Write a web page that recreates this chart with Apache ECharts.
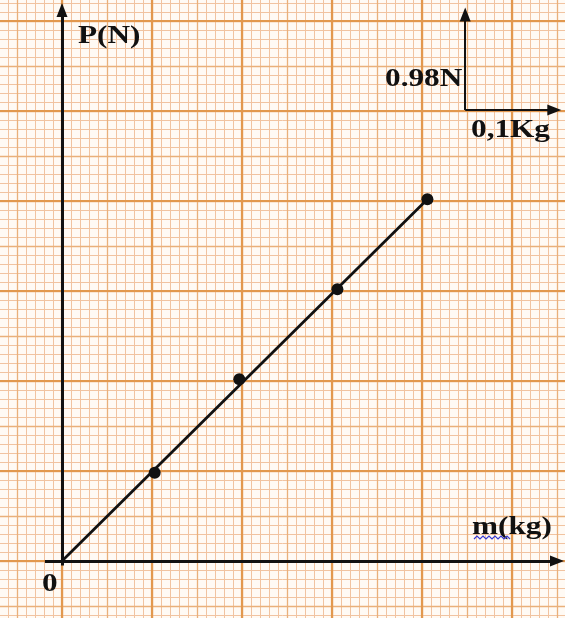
<!DOCTYPE html>
<html>
<head>
<meta charset="utf-8">
<script src="https://cdn.jsdelivr.net/npm/echarts@6/dist/echarts.min.js"></script>
<style>
html,body{margin:0;padding:0;background:#fffaf4;}
#c{width:565px;height:618px;}
</style>
</head>
<body>
<div id="c"></div>
<script>
// Measured points (mass in kg, weight in N)
var massKg = [0.103, 0.197, 0.306, 0.406];
var weightN = [0.96, 1.98, 2.96, 3.94];
// Fitted line through origin and last point
var fitMass = [0, 0.406];
var fitWeight = [0, 3.94];
// Axis ranges / graph paper steps
var xRange = [-0.1, 0.6];
var yRange = [-0.98, 6.86];
var xSteps = [0.01, 0.05, 0.1];
var ySteps = [0.098, 0.49, 0.98];
// Labels
var yTitle = 'P(N)';
var xTitle = 'm(kg)';
var originLabel = '0';
var scaleYLabel = '0.98N';
var scaleXLabel = '0,1Kg';

var paperColors = ['#f1c3a0', '#e9b07a', '#e2984e'];
var paperWidths = [1, 1.3, 2.2];

function toPairs(a, b) { return a.map(function (v, i) { return [v, b[i]]; }); }

var xAxes = [], yAxes = [];
for (var i = 0; i < 3; i++) {
  xAxes.push({
    type: 'value', min: xRange[0], max: xRange[1], interval: xSteps[i], z: i,
    axisLine: {show: false}, axisTick: {show: false}, axisLabel: {show: false},
    splitLine: {show: true, lineStyle: {color: paperColors[i], width: paperWidths[i]}}
  });
  yAxes.push({
    type: 'value', min: yRange[0], max: yRange[1], interval: ySteps[i], z: i,
    axisLine: {show: false}, axisTick: {show: false}, axisLabel: {show: false},
    splitLine: {show: true, lineStyle: {color: paperColors[i], width: paperWidths[i]}}
  });
}

var chart = echarts.init(document.getElementById('c'), null, {renderer: 'canvas'});
var font = 'bold 25px "Liberation Serif", "Times New Roman", serif';
function txt(t, x, y, align) {
  return {type: 'text', x: x, y: y, scaleX: 1.25, z: 100,
    style: {text: t, font: font, fill: '#111', textAlign: align || 'left', textVerticalAlign: 'middle'}};
}
var arrowLine = {color: '#111', width: 2, type: 'solid'};
var axisLine = {color: '#111', width: 3, type: 'solid'};

chart.setOption({
  animation: false,
  backgroundColor: '#fffaf4',
  grid: {left: -28, top: -69, width: 630, height: 720, containLabel: false, outerBoundsMode: 'none'},
  xAxis: xAxes,
  yAxis: yAxes,
  series: [
    {
      type: 'line', xAxisIndex: 2, yAxisIndex: 2, z: 10,
      data: toPairs(fitMass, fitWeight),
      symbol: 'none', lineStyle: {color: '#111', width: 2.8},
      markLine: {
        silent: true, symbol: ['none', 'triangle'], symbolSize: [11, 14],
        label: {show: false},
        data: [
          [{coord: [-0.019, 0], lineStyle: axisLine, symbol: 'none'}, {coord: [0.55, 0], lineStyle: axisLine}],
          [{coord: [0, -0.05], lineStyle: axisLine, symbol: 'none'}, {coord: [0, 6.0], lineStyle: axisLine}],
          [{coord: [0.448, 4.91], lineStyle: arrowLine, symbol: 'none'}, {coord: [0.448, 5.95], lineStyle: arrowLine}],
          [{coord: [0.448, 4.91], lineStyle: arrowLine, symbol: 'none'}, {coord: [0.547, 4.91], lineStyle: arrowLine}]
        ]
      }
    },
    {
      type: 'scatter', xAxisIndex: 2, yAxisIndex: 2, z: 11,
      data: toPairs(massKg, weightN),
      symbol: 'circle', symbolSize: 12, itemStyle: {color: '#111', opacity: 1}
    }
  ],
  graphic: [
    txt(yTitle, 78, 37),
    txt(xTitle, 472, 528),
    txt(originLabel, 42, 585),
    txt(scaleYLabel, 385, 80),
    txt(scaleXLabel, 471, 131),
    {type: 'polyline', z: 100, shape: {points: [[474,539],[477,536],[480,539],[483,536],[486,539],[489,536],[492,539],[495,536],[498,539],[501,536],[504,539],[507,536],[510,539]]},
     style: {stroke: '#3a3ad0', lineWidth: 1.2, fill: null}}
  ]
});
</script>
</body>
</html>
